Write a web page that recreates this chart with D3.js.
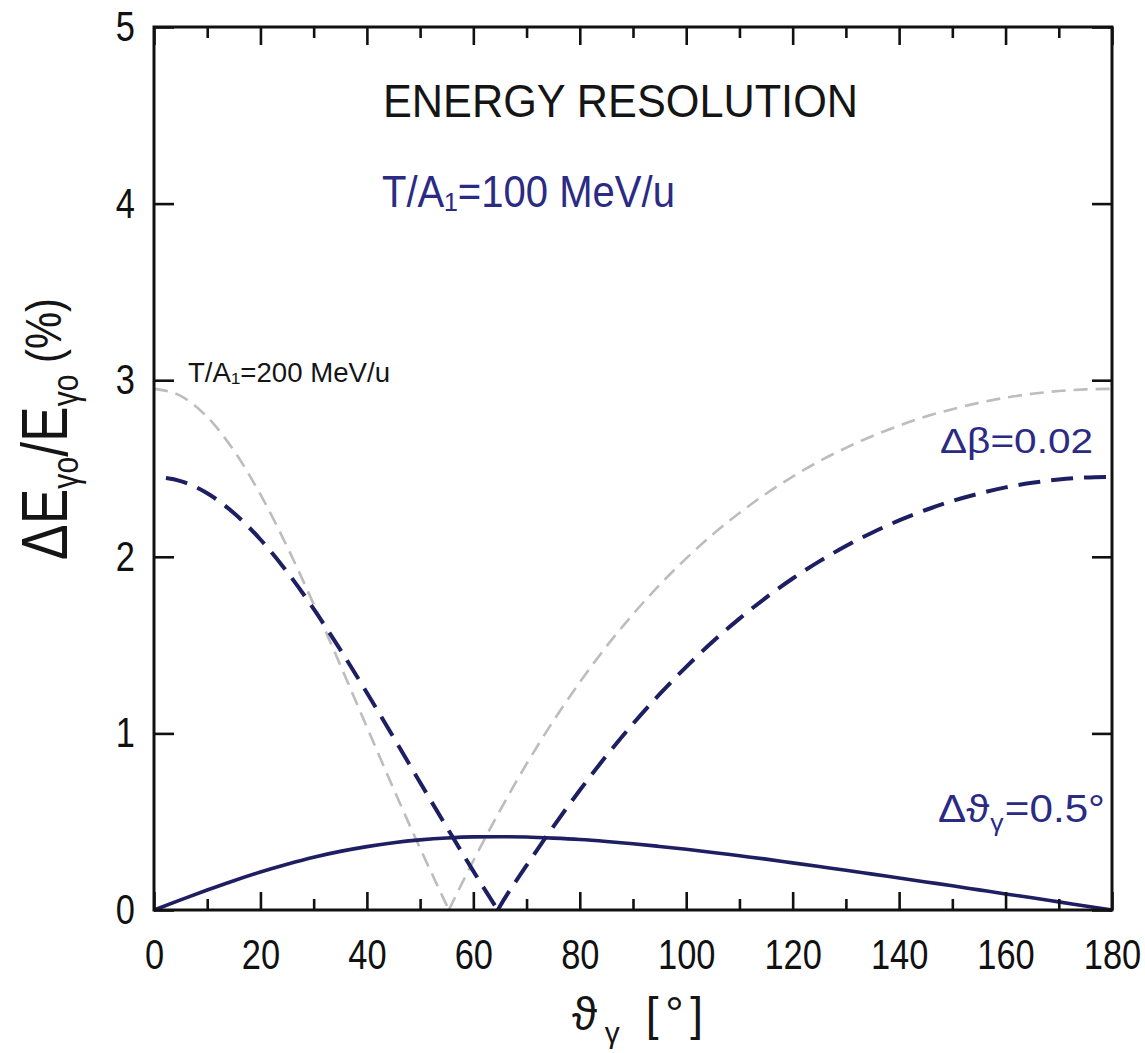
<!DOCTYPE html>
<html>
<head>
<meta charset="utf-8">
<script src="https://cdn.jsdelivr.net/npm/d3@7"></script>
<style>
  html, body { margin: 0; padding: 0; background: #ffffff; }
  svg { display: block; }
  text { font-family: "Liberation Sans", Arial, "DejaVu Sans", sans-serif; }
</style>
</head>
<body>
<svg id="chart" width="1145" height="1053"></svg>
<script>
// ---------------- data ----------------
const xMajorTicks = [0, 20, 40, 60, 80, 100, 120, 140, 160, 180];
const xMinorTicks = [10, 30, 50, 70, 90, 110, 130, 150, 170];
const yTicks = [0, 1, 2, 3, 4, 5];

// angle grid (degrees) for the solid curve
const angles = [0,5,10,15,20,25,30,35,40,45,50,55,60,65,70,75,80,85,90,95,100,105,110,115,120,125,130,135,140,145,150,155,160,165,170,175,180];
// Δϑγ = 0.5°, T/A1 = 100 MeV/u  (solid)
const resAngle = [0,0.057,0.113,0.166,0.215,0.259,0.299,0.332,0.359,0.381,0.397,0.408,0.414,0.415,0.413,0.407,0.399,0.388,0.375,0.360,0.344,0.326,0.307,0.288,0.267,0.246,0.225,0.203,0.181,0.159,0.137,0.114,0.091,0.069,0.046,0.023,0];

// Δβ = 0.02, T/A1 = 100 MeV/u (navy dashed)
const beta100Angles = [0,5,10,15,20,25,30,35,40,45,50,55,60,64.6,65,70,75,80,85,90,95,100,105,110,115,120,125,130,135,140,145,150,155,160,165,170,175,180];
const beta100Values = [2.453,2.429,2.360,2.248,2.098,1.915,1.705,1.474,1.230,0.978,0.722,0.469,0.220,0,0.021,0.252,0.471,0.678,0.873,1.054,1.222,1.377,1.520,1.650,1.769,1.877,1.974,2.061,2.138,2.206,2.265,2.316,2.358,2.393,2.419,2.438,2.449,2.453];

// Δβ = 0.02, T/A1 = 200 MeV/u (grey dashed)
const beta200Angles = [0,5,10,15,20,25,30,35,40,45,50,55,55.4,60,65,70,75,80,85,90,95,100,105,110,115,120,125,130,135,140,145,150,155,160,165,170,175,180];
const beta200Values = [2.951,2.911,2.792,2.602,2.353,2.058,1.732,1.387,1.036,0.687,0.349,0.026,0,0.279,0.563,0.827,1.069,1.290,1.492,1.675,1.841,1.991,2.127,2.248,2.357,2.454,2.541,2.617,2.684,2.743,2.794,2.836,2.872,2.901,2.923,2.939,2.948,2.951];

// ---------------- drawing ----------------
const svg = d3.select("#chart");
svg.append("rect").attr("width", 1145).attr("height", 1053).attr("fill", "#ffffff");

const x = d3.scaleLinear().domain([0, 180]).range([154, 1112]);
const y = d3.scaleLinear().domain([0, 5]).range([910, 27]);

const navy = "#1e1e62";
const navyText = "#2b2b84";
const grey = "#bdbdbd";

const line = d3.line().x(d => x(d[0])).y(d => y(d[1])).curve(d3.curveMonotoneX);

function splitAtZero(xs, vs) {
  const pts = d3.zip(xs, vs);
  const iz = vs.indexOf(0, 1);
  return [pts.slice(0, iz + 1), pts.slice(iz)];
}

const curves = svg.append("g");
// grey 200 MeV/u
splitAtZero(beta200Angles, beta200Values).forEach(seg => {
  curves.append("path").attr("d", line(seg)).attr("fill", "none")
    .attr("stroke", grey).attr("stroke-width", 2.6)
    .attr("stroke-dasharray", "14,8");
});
// navy dashed 100 MeV/u
splitAtZero(beta100Angles, beta100Values).forEach((seg, i) => {
  curves.append("path").attr("d", line(seg)).attr("fill", "none")
    .attr("stroke", navy).attr("stroke-width", 4)
    .attr("stroke-dasharray", "22,11")
    .attr("stroke-dashoffset", i === 0 ? -12 : 0);
});
// solid
curves.append("path").attr("d", line(d3.zip(angles, resAngle))).attr("fill", "none")
  .attr("stroke", navy).attr("stroke-width", 3.6);

// ---------------- axes ----------------
const tickFont = 42, tickScale = 0.82;
function styleAxis(g) {
  g.select(".domain").remove();
  g.selectAll(".tick line").attr("stroke", "#111").attr("stroke-width", 2.6);
  g.selectAll(".tick text").attr("fill", "#111").attr("font-size", tickFont)
    .attr("font-family", "'Liberation Sans', Arial, sans-serif");
}
const gB = svg.append("g").attr("transform", "translate(0,910)")
  .call(d3.axisBottom(x).tickValues(xMajorTicks).tickSizeInner(-18).tickSizeOuter(0).tickPadding(29).tickFormat(d3.format("d")))
  .call(styleAxis);
gB.selectAll(".tick text").attr("transform", `scale(${tickScale},1)`);
svg.append("g").attr("transform", "translate(0,910)")
  .call(d3.axisBottom(x).tickValues(xMinorTicks).tickSizeInner(-11).tickSizeOuter(0).tickFormat(""))
  .call(styleAxis);
svg.append("g").attr("transform", "translate(0,27)")
  .call(d3.axisTop(x).tickValues(xMajorTicks).tickSizeInner(-18).tickSizeOuter(0).tickFormat(""))
  .call(styleAxis);
svg.append("g").attr("transform", "translate(0,27)")
  .call(d3.axisTop(x).tickValues(xMinorTicks).tickSizeInner(-11).tickSizeOuter(0).tickFormat(""))
  .call(styleAxis);
const gL = svg.append("g").attr("transform", "translate(154,0)")
  .call(d3.axisLeft(y).tickValues(yTicks).tickSizeInner(-20).tickSizeOuter(0).tickPadding(19).tickFormat(d3.format("d")))
  .call(styleAxis);
gL.selectAll(".tick text").attr("x", -19 / tickScale).attr("transform", `scale(${tickScale},1)`);
svg.append("g").attr("transform", "translate(1112,0)")
  .call(d3.axisRight(y).tickValues(yTicks).tickSizeInner(-20).tickSizeOuter(0).tickFormat(""))
  .call(styleAxis);

// frame
svg.append("rect").attr("x", 154).attr("y", 27).attr("width", 958).attr("height", 883)
  .attr("fill", "none").attr("stroke", "#111").attr("stroke-width", 3);

// ---------------- texts ----------------
function addText(xp, yp, size, color, width, parts, anchor, adjust) {
  const t = svg.append("text").attr("x", xp).attr("y", yp)
    .attr("font-size", size).attr("fill", color)
    .attr("text-anchor", anchor || "start");
  parts.forEach(p => {
    const s = t.append("tspan").text(p.t);
    if (p.size) s.attr("font-size", p.size);
    if (p.dy) s.attr("dy", p.dy);
    if (p.dx) s.attr("dx", p.dx);
  });
  if (width) t.attr("textLength", width).attr("lengthAdjust", adjust || "spacingAndGlyphs");
  return t;
}

addText(383, 117, 47, "#151515", 475, [{t: "ENERGY RESOLUTION"}]);
addText(382, 207, 44, navyText, 293, [{t: "T/A₁=100 MeV/u"}]);
addText(188, 382, 27, "#151515", 202, [{t: "T/A₁=200 MeV/u"}]);
addText(940, 453, 35, navyText, 153, [{t: "Δβ=0.02"}]);
addText(938, 822, 38, navyText, 167, [
  {t: "Δϑ"}, {t: "γ", size: 24, dy: 9, dx: 1}, {t: "=0.5°", size: 38, dy: -9, dx: 1}]);

// x axis title
addText(572, 1030, 46, "#151515", 131, [
  {t: "ϑ"}, {t: "γ", size: 30, dy: 13, dx: 1}, {t: " [°]", size: 46, dy: -13}], "start", "spacing");

// y axis title (rotated)
const yt = svg.append("text")
  .attr("transform", "translate(67,560) rotate(-90)")
  .attr("font-size", 64).attr("fill", "#151515")
  .attr("textLength", 262).attr("lengthAdjust", "spacingAndGlyphs");
[{t: "ΔE"}, {t: "γo", size: 36, dy: 11}, {t: "/E", size: 64, dy: -11},
 {t: "γo", size: 36, dy: 11}, {t: " (%)", size: 50, dy: -17}].forEach(p => {
  const s = yt.append("tspan").text(p.t);
  if (p.size) s.attr("font-size", p.size);
  if (p.dy) s.attr("dy", p.dy);
});
</script>
</body>
</html>
